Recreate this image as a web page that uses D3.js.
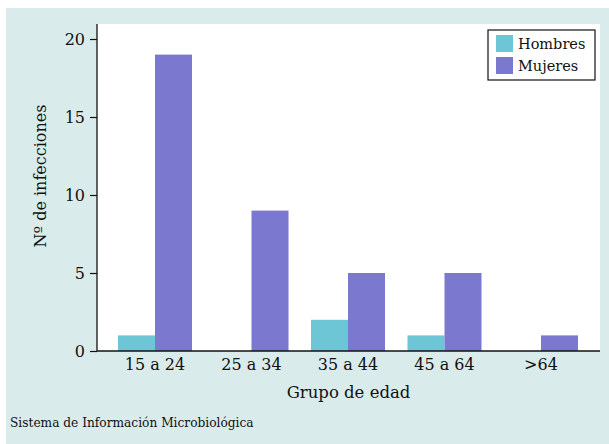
<!DOCTYPE html>
<html>
<head>
<meta charset="utf-8">
<script src="https://cdn.jsdelivr.net/npm/d3@7"></script>
<style>
  body { margin: 0; background: #fff; }
  text { font-family: "DejaVu Serif", "Liberation Serif", serif; fill: #111; }
</style>
</head>
<body>
<script>
// data
var grupos = ["15 a 24", "25 a 34", "35 a 44", "45 a 64", ">64"];
var series = ["Hombres", "Mujeres"];
var hombres = [1, 0, 2, 1, 0];
var mujeres = [19, 9, 5, 5, 1];
var yTicks = [0, 5, 10, 15, 20];
var colores = ["#6cc6d6", "#7b78d0"];

var W = 609, H = 444;
var margin = { top: 24, right: 9, bottom: 93, left: 97 },
    width = W - margin.left - margin.right,
    height = H - margin.top - margin.bottom;

var svg = d3.select("body").append("svg")
    .attr("width", W)
    .attr("height", H);

// teal panel behind everything
svg.append("rect")
    .attr("x", 6).attr("y", 8)
    .attr("width", W - 6).attr("height", H - 8)
    .attr("fill", "#d9ebea");

var g = svg.append("g")
    .attr("transform", "translate(" + margin.left + "," + margin.top + ")");

g.append("rect")
    .attr("width", width).attr("height", height)
    .attr("fill", "#fff");

var x = d3.scaleBand().domain(grupos)
    .range([21, 481]).paddingInner(0.233).paddingOuter(0);
var xs = d3.scaleBand().domain(series).range([0, x.bandwidth()]);
var y = d3.scaleLinear().domain([0, 20]).range([height, 15]);

var rows = grupos.map(function (d, i) {
    return { grupo: d, values: [hombres[i], mujeres[i]] };
});

var grp = g.selectAll("g.grp")
    .data(rows)
    .enter().append("g")
    .attr("class", "grp")
    .attr("transform", function (d) { return "translate(" + x(d.grupo) + ",0)"; });

grp.selectAll("rect")
    .data(function (d) {
        return d.values.map(function (v, j) { return { s: series[j], v: v, j: j }; });
    })
    .enter().append("rect")
    .attr("x", function (d) { return xs(d.s); })
    .attr("width", xs.bandwidth())
    .attr("y", function (d) { return y(d.v); })
    .attr("height", function (d) { return height - y(d.v); })
    .attr("fill", function (d) { return colores[d.j]; });

// y axis
var yAxis = g.append("g")
    .call(d3.axisLeft(y).tickValues(yTicks).tickSize(7).tickPadding(5));
yAxis.select(".domain").attr("d", "M0,0V" + height).attr("stroke", "#111").attr("stroke-width", 1.3);
yAxis.selectAll(".tick line").attr("stroke", "#111").attr("stroke-width", 1.2);
yAxis.selectAll("text").style("font-size", "16px").attr("fill", "#111");

// x axis
var xAxis = g.append("g")
    .attr("transform", "translate(0," + height + ")")
    .call(d3.axisBottom(x).tickSize(0).tickPadding(8));
xAxis.select(".domain").attr("d", "M0,0H" + width).attr("stroke", "#111").attr("stroke-width", 1.3);
xAxis.selectAll("text").style("font-size", "16px").attr("fill", "#111")
    .attr("dy", "0.71em");

// titles
svg.append("text")
    .attr("x", margin.left + width / 2).attr("y", 398)
    .attr("text-anchor", "middle")
    .style("font-size", "16.5px")
    .text("Grupo de edad");

svg.append("text")
    .attr("transform", "translate(46,176) rotate(-90)")
    .attr("text-anchor", "middle")
    .style("font-size", "16px")
    .text("Nº de infecciones");

svg.append("text")
    .attr("x", 10).attr("y", 427)
    .style("font-size", "12.2px")
    .text("Sistema de Información Microbiológica");

// legend
var leg = svg.append("g").attr("transform", "translate(488,30)");
leg.append("rect")
    .attr("width", 107).attr("height", 50)
    .attr("fill", "#fff").attr("stroke", "#111").attr("stroke-width", 1.2);
var li = leg.selectAll("g.li")
    .data(series)
    .enter().append("g")
    .attr("class", "li")
    .attr("transform", function (d, i) { return "translate(8," + (5 + i * 22) + ")"; });
li.append("rect")
    .attr("width", 17).attr("height", 17)
    .attr("fill", function (d, i) { return colores[i]; });
li.append("text")
    .attr("x", 22).attr("y", 14)
    .style("font-size", "14.5px")
    .text(function (d) { return d; });
</script>
</body>
</html>
